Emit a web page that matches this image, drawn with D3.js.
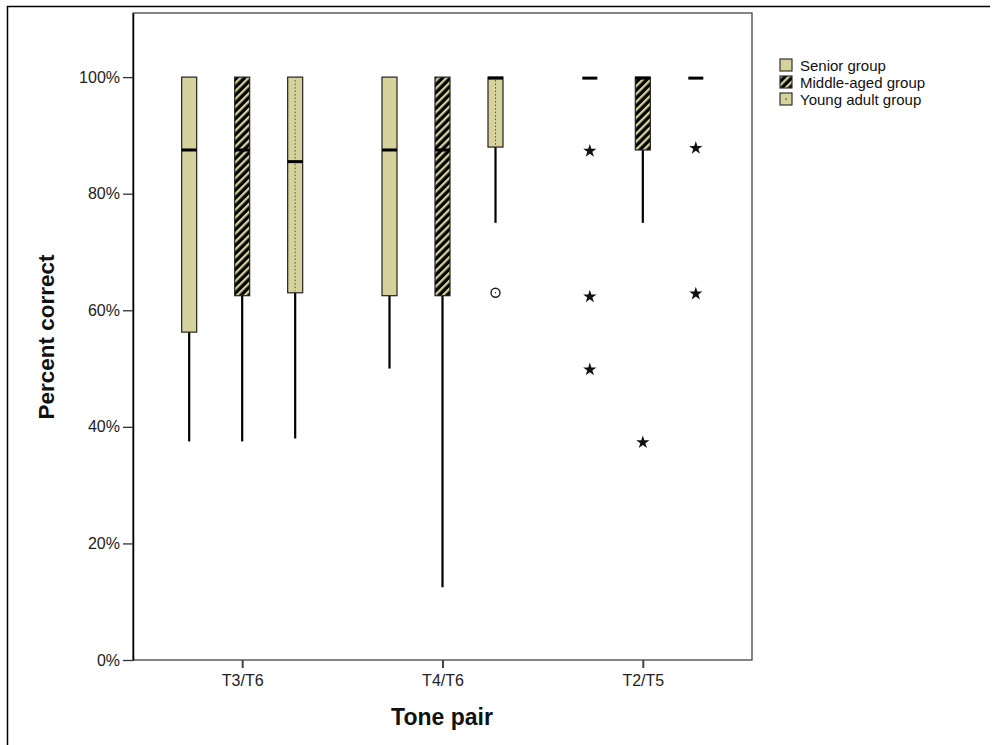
<!DOCTYPE html>
<html><head><meta charset="utf-8">
<script src="https://cdn.jsdelivr.net/npm/d3@7"></script>
<style>body{margin:0;background:#fff;font-family:Arial,"Liberation Sans",sans-serif}</style>
</head><body><svg id="c" width="995" height="745"></svg>
<script>
const categories = ["T3/T6", "T4/T6", "T2/T5"];
const groups = ["Senior group", "Middle-aged group", "Young adult group"];
// per group, values per category (fractions)
const whiskerLow = [[0.375, 0.50, 1.0], [0.375, 0.125, 0.75], [0.38, 0.75, 1.0]];
const q1 =         [[0.5625, 0.625, 1.0], [0.625, 0.625, 0.875], [0.63, 0.88, 1.0]];
const median =     [[0.875, 0.875, 1.0], [0.875, 0.875, 1.0], [0.855, 1.0, 1.0]];
const q3 =         [[1.0, 1.0, 1.0], [1.0, 1.0, 1.0], [1.0, 1.0, 1.0]];
const whiskerHigh =[[1.0, 1.0, 1.0], [1.0, 1.0, 1.0], [1.0, 1.0, 1.0]];
const outlierCat =   ["T4/T6", "T2/T5", "T2/T5", "T2/T5", "T2/T5", "T2/T5", "T2/T5"];
const outlierGroup = [2, 0, 0, 0, 1, 2, 2];
const outlierValue = [0.63, 0.875, 0.625, 0.50, 0.375, 0.88, 0.63];
const outlierType =  ["circle", "star", "star", "star", "star", "star", "star"];
const yTicks = [0, 0.2, 0.4, 0.6, 0.8, 1.0];

const svg = d3.select("#c");
const tan = "#d6d29b";
const FONT = "Arial, 'Liberation Sans', sans-serif";
const defs = svg.append("defs");
const hatch = defs.append("pattern").attr("id", "hatch").attr("patternUnits", "userSpaceOnUse")
  .attr("width", 5.6).attr("height", 10).attr("patternTransform", "rotate(45)");
hatch.append("rect").attr("width", 5.6).attr("height", 10).attr("fill", "#000");
hatch.append("rect").attr("width", 2.3).attr("height", 10).attr("fill", tan);

// outer frame (partial)
svg.append("line").attr("x1", 7).attr("x2", 990).attr("y1", 6.5).attr("y2", 6.5).attr("stroke", "#000").attr("stroke-width", 1.5);
svg.append("line").attr("x1", 7.5).attr("x2", 7.5).attr("y1", 6).attr("y2", 745).attr("stroke", "#000").attr("stroke-width", 1.5);

const L = 133, R = 752, T = 13, B = 660;
const y = d3.scaleLinear().domain([0, 1.11]).range([B, T]);
const x = d3.scalePoint().domain(categories).range([L, R]).padding(0.545);
const xg = d3.scalePoint().domain(groups).range([-53, 53]);
const bw = 15;

// plot frame
svg.append("rect").attr("x", L).attr("y", T).attr("width", R - L).attr("height", B - T)
  .attr("fill", "none").attr("stroke", "#444").attr("stroke-width", 1.3);

// axes
const yAxis = svg.append("g").attr("transform", `translate(${L},0)`)
  .call(d3.axisLeft(y).tickValues(yTicks).tickFormat(d3.format(".0%")).tickSizeInner(10).tickSizeOuter(0).tickPadding(3));
yAxis.select(".domain").attr("stroke", "#000").attr("stroke-width", 1.5);
yAxis.selectAll(".tick line").attr("stroke", "#333").attr("stroke-width", 1.3);
yAxis.selectAll("text").attr("font-size", 16).attr("fill", "#222").attr("font-family", FONT);

const xAxis = svg.append("g").attr("transform", `translate(0,${B})`)
  .call(d3.axisBottom(x).tickSizeInner(8).tickSizeOuter(0).tickPadding(7));
xAxis.select(".domain").remove();
xAxis.selectAll(".tick line").attr("stroke", "#444").attr("stroke-width", 2);
xAxis.selectAll("text").attr("font-size", 16).attr("fill", "#222").attr("font-family", FONT);

svg.append("text").attr("x", 442).attr("y", 725).attr("text-anchor", "middle").attr("font-family", FONT)
  .attr("font-size", 23).attr("font-weight", "bold").attr("fill", "#111").text("Tone pair");
svg.append("text").attr("transform", "translate(54,337) rotate(-90)").attr("text-anchor", "middle").attr("font-family", FONT)
  .attr("font-size", 22.5).attr("font-weight", "bold").attr("fill", "#111").text("Percent correct");

// boxes
groups.forEach((g, gi) => {
  categories.forEach((c, ci) => {
    const cx = x(c) + xg(g);
    const gEl = svg.append("g");
    if (whiskerLow[gi][ci] < q1[gi][ci]) {
      gEl.append("line").attr("x1", cx).attr("x2", cx).attr("y1", y(whiskerLow[gi][ci])).attr("y2", y(q1[gi][ci]))
        .attr("stroke", "#000").attr("stroke-width", 2.2);
    }
    if (whiskerHigh[gi][ci] > q3[gi][ci]) {
      gEl.append("line").attr("x1", cx).attr("x2", cx).attr("y1", y(whiskerHigh[gi][ci])).attr("y2", y(q3[gi][ci]))
        .attr("stroke", "#000").attr("stroke-width", 2.2);
    }
    const h = y(q1[gi][ci]) - y(q3[gi][ci]);
    if (h > 0.5) {
      gEl.append("rect").attr("x", cx - bw / 2).attr("y", y(q3[gi][ci])).attr("width", bw).attr("height", h)
        .attr("fill", gi === 1 ? "url(#hatch)" : tan).attr("stroke", "#222").attr("stroke-width", 1.2);
      if (gi === 2) {
        gEl.append("line").attr("x1", cx).attr("x2", cx).attr("y1", y(q3[gi][ci]) + 3).attr("y2", y(q1[gi][ci]) - 2)
          .attr("stroke", "#555").attr("stroke-width", 1).attr("stroke-dasharray", "1.5,2");
      }
    }
    const my = y(median[gi][ci]) + (median[gi][ci] >= 1 ? 1 : 0);
    gEl.append("line").attr("x1", cx - bw / 2).attr("x2", cx + bw / 2).attr("y1", my).attr("y2", my)
      .attr("stroke", "#000").attr("stroke-width", 3);
  });
});

// outliers
const star = d3.symbol().type(d3.symbolStar).size(55);
outlierValue.forEach((v, i) => {
  const cx = x(outlierCat[i]) + xg(groups[outlierGroup[i]]);
  const cy = y(v);
  if (outlierType[i] === "star") {
    svg.append("path").attr("d", star()).attr("transform", `translate(${cx},${cy + 1})`).attr("fill", "#111");
  } else {
    svg.append("circle").attr("cx", cx).attr("cy", cy).attr("r", 4.5).attr("fill", "none").attr("stroke", "#222").attr("stroke-width", 1.4);
    svg.append("circle").attr("cx", cx).attr("cy", cy).attr("r", 0.7).attr("fill", "#222");
  }
});

// legend
const leg = svg.append("g").attr("transform", "translate(780,59)");
groups.forEach((g, gi) => {
  const row = leg.append("g").attr("transform", `translate(0,${gi * 17})`);
  row.append("rect").attr("x", 0).attr("y", 0).attr("width", 12).attr("height", 12)
    .attr("fill", gi === 1 ? "url(#hatch)" : tan).attr("stroke", "#333").attr("stroke-width", 1.2);
  if (gi === 2) row.append("rect").attr("x", 5.4).attr("y", 5.4).attr("width", 1.4).attr("height", 1.4).attr("fill", "#444");
  row.append("text").attr("x", 20).attr("y", 11.5).attr("font-size", 15).attr("font-family", FONT).attr("fill", "#111").text(g);
});
</script></body></html>
